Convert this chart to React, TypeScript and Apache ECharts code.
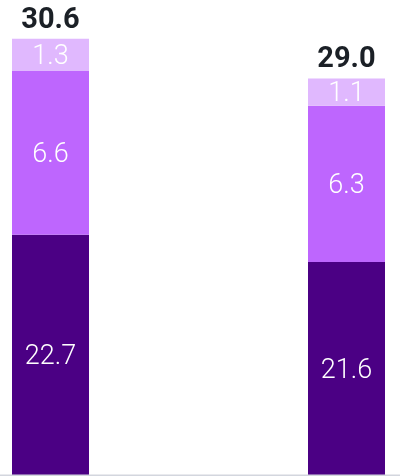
import React, { useEffect, useRef } from "react";
import * as echarts from "echarts";

const categories = ["A", "B"];
const baseValues = [22.7, 21.6];
const midValues = [6.6, 6.3];
const topValues = [1.3, 1.1];
const totals = [30.6, 29.0];

const innerLabel = {
  show: true,
  position: "inside" as const,
  color: "#ffffff",
  fontSize: 27,
  fontFamily: "Roboto, sans-serif",
  fontWeight: 300,
  formatter: (p: any) => Number(p.value).toFixed(1),
};

export default function App() {
  const ref = useRef<HTMLDivElement>(null);
  useEffect(() => {
    if (!ref.current) return;
    const chart = echarts.init(ref.current, undefined, { renderer: "svg" });
    chart.setOption({
      animation: false,
      grid: { left: 50.5, right: 53.5, top: 4, bottom: 0.5 },
      xAxis: {
        type: "category",
        data: categories,
        boundaryGap: false,
        axisLine: { show: false },
        axisTick: { show: false },
        axisLabel: { show: false },
        splitLine: { show: false },
      },
      yAxis: {
        type: "value",
        min: 13,
        max: 32,
        show: false,
        splitLine: { show: false },
      },
      series: [
        {
          type: "bar",
          stack: "t",
          barWidth: 77,
          data: baseValues,
          itemStyle: { color: "#4b0084" },
          label: innerLabel,
        },
        {
          type: "bar",
          stack: "t",
          barWidth: 77,
          data: midValues,
          itemStyle: { color: "#be66fe" },
          label: innerLabel,
        },
        {
          type: "bar",
          stack: "t",
          barWidth: 77,
          data: topValues,
          itemStyle: { color: "#e0b8fe" },
          label: innerLabel,
        },
        {
          type: "scatter",
          data: totals,
          symbol: "circle",
          symbolSize: 1,
          itemStyle: { color: "rgba(0,0,0,0)", opacity: 1 },
          clip: false,
          label: {
            show: true,
            position: "top",
            distance: 6,
            color: "#1b2026",
            fontSize: 29,
            fontWeight: 700,
            fontFamily: "Roboto, sans-serif",
            formatter: (p: any) => Number(p.value).toFixed(1),
          },
          z: 10,
        },
      ],
      graphic: [
        {
          type: "line",
          shape: { x1: 0, y1: 475.25, x2: 400, y2: 475.25 },
          style: { stroke: "#d3d6de", lineWidth: 1.5 },
          z: 100,
        },
      ],
    });
    return () => chart.dispose();
  }, []);
  return (
    <div
      ref={ref}
      style={{ position: "fixed", left: 0, top: 0, width: 400, height: 476 }}
    />
  );
}
